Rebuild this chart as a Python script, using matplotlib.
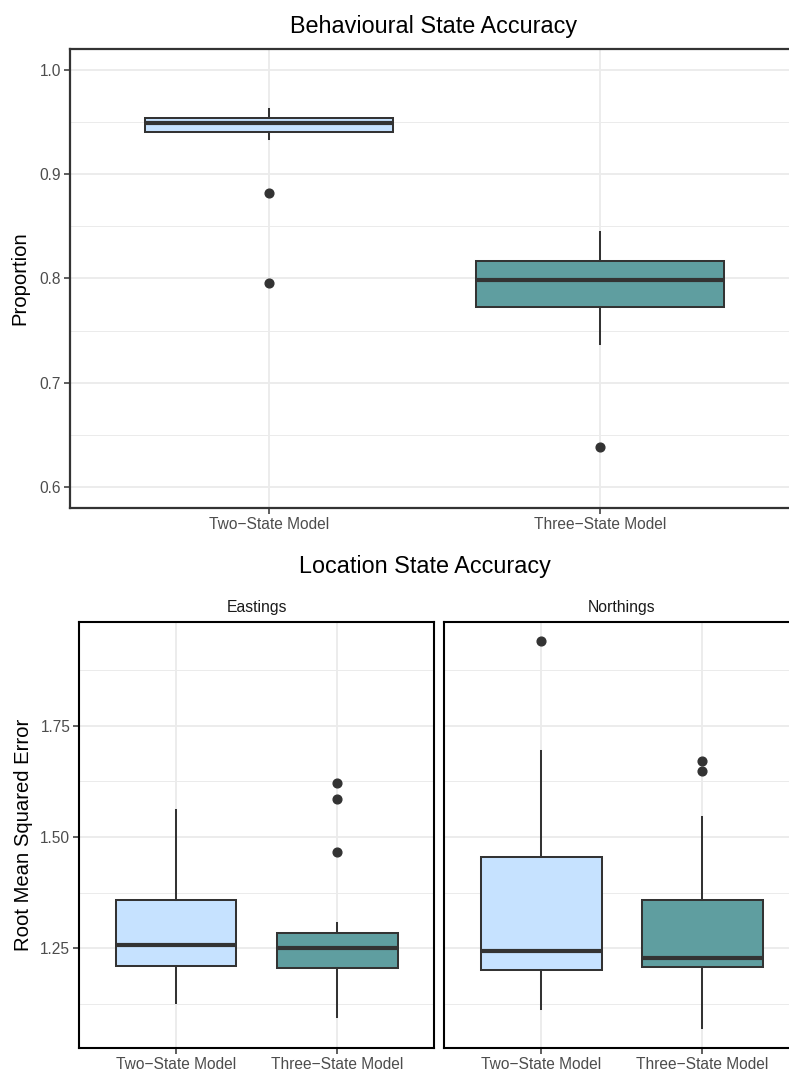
import matplotlib
matplotlib.use("Agg")
import matplotlib.pyplot as plt
from matplotlib.ticker import FixedLocator

plt.rcParams['font.family'] = ['Liberation Sans', 'DejaVu Sans']

# ---------------- data ----------------
categories = ["Two\u2212State Model", "Three\u2212State Model"]
box_colors = ["#C6E2FF", "#5F9EA0"]

# Behavioural state accuracy (proportion)
beh_whislo = [0.934, 0.737]
beh_q1 = [0.9406, 0.773]
beh_med = [0.949, 0.798]
beh_q3 = [0.954, 0.817]
beh_whishi = [0.962, 0.844]
beh_fliers = [[0.8816, 0.7954], [0.6389]]

# Location state accuracy (RMSE) - Eastings
east_whislo = [1.128, 1.096]
east_q1 = [1.210, 1.206]
east_med = [1.257, 1.251]
east_q3 = [1.359, 1.285]
east_whishi = [1.561, 1.306]
east_fliers = [[], [1.6224, 1.5857, 1.4659]]

# Location state accuracy (RMSE) - Northings
north_whislo = [1.113, 1.070]
north_q1 = [1.2005, 1.208]
north_med = [1.2446, 1.2275]
north_q3 = [1.4546, 1.3586]
north_whishi = [1.693, 1.5446]
north_fliers = [[1.9417], [1.6719, 1.6494]]

beh_yticks = [0.6, 0.7, 0.8, 0.9, 1.0]
loc_yticks = [1.25, 1.50, 1.75]


def make_stats(wlo, q1, med, q3, whi, fl):
    return [dict(whislo=wlo[i], q1=q1[i], med=med[i], q3=q3[i], whishi=whi[i],
                 fliers=fl[i], label=categories[i]) for i in range(len(categories))]


def draw(ax, stats, yticks, yminor, ylim, spine_color, spine_lw):
    ax.set_facecolor("white")
    ax.set_axisbelow(True)
    ax.yaxis.set_major_locator(FixedLocator(yticks))
    ax.yaxis.set_minor_locator(FixedLocator(yminor))
    ax.grid(which="major", axis="both", color="#EBEBEB", linewidth=1.3)
    ax.grid(which="minor", axis="y", color="#EBEBEB", linewidth=0.7)
    bp = ax.bxp(stats, positions=range(1, len(stats) + 1), widths=0.75,
                patch_artist=True, showcaps=False,
                boxprops=dict(edgecolor="#333333", linewidth=1.45),
                whiskerprops=dict(color="#333333", linewidth=1.45),
                medianprops=dict(color="#333333", linewidth=3.0, solid_capstyle="butt"),
                flierprops=dict(marker="o", markerfacecolor="#333333",
                                markeredgecolor="#333333", markersize=6.3))
    for patch, c in zip(bp["boxes"], box_colors):
        patch.set_facecolor(c)
    ax.set_xlim(0.4, len(stats) + 0.6)
    ax.set_ylim(*ylim)
    ax.set_xticks(range(1, len(stats) + 1))
    ax.set_xticklabels(categories)
    ax.tick_params(axis="both", which="major", length=4, width=1.1, color="#333333",
                   labelcolor="#4D4D4D", labelsize=11.2, pad=2.5)
    ax.tick_params(axis="both", which="minor", length=0)
    for s in ax.spines.values():
        s.set_color(spine_color)
        s.set_linewidth(spine_lw)


fig = plt.figure(figsize=(7.89, 10.74), dpi=100)
W, H = 789.0, 1074.0

# top panel
ax1 = fig.add_axes([70 / W, 1 - 508 / H, 729 / W, 459.2 / H])
draw(ax1, make_stats(beh_whislo, beh_q1, beh_med, beh_q3, beh_whishi, beh_fliers),
     beh_yticks, [0.65, 0.75, 0.85, 0.95], (0.58, 1.02), "#333333", 1.6)
ax1.set_ylabel("Proportion", fontsize=14.6, color="black", labelpad=7)
ax1.yaxis.set_major_formatter(matplotlib.ticker.FormatStrFormatter("%.1f"))
fig.text(433.5 / W, 1 - 27 / H, "Behavioural State Accuracy", ha="center", va="center",
         fontsize=16.8, color="black")

# bottom panels
loc_ylim = (1.0265, 1.984)
minor_loc = [1.125, 1.375, 1.625, 1.875]
ax2 = fig.add_axes([79.3 / W, 1 - 1047.7 / H, 354.7 / W, 426 / H])
draw(ax2, make_stats(east_whislo, east_q1, east_med, east_q3, east_whishi, east_fliers),
     loc_yticks, minor_loc, loc_ylim, "black", 1.5)
ax2.yaxis.set_major_formatter(matplotlib.ticker.FormatStrFormatter("%.2f"))
ax2.set_ylabel("Root Mean Squared Error", fontsize=14.6, color="black", labelpad=5)
ax2.set_title("Eastings", fontsize=11.3, color="#1A1A1A", pad=7)

ax3 = fig.add_axes([444.5 / W, 1 - 1047.7 / H, 354.7 / W, 426 / H])
draw(ax3, make_stats(north_whislo, north_q1, north_med, north_q3, north_whishi, north_fliers),
     loc_yticks, minor_loc, loc_ylim, "black", 1.5)
ax3.tick_params(axis="y", which="both", left=False, labelleft=False)
ax3.set_title("Northings", fontsize=11.3, color="#1A1A1A", pad=7)

fig.text(425 / W, 1 - 566 / H, "Location State Accuracy", ha="center", va="center",
         fontsize=16.8, color="black")

fig.savefig("out.png", dpi=100)
